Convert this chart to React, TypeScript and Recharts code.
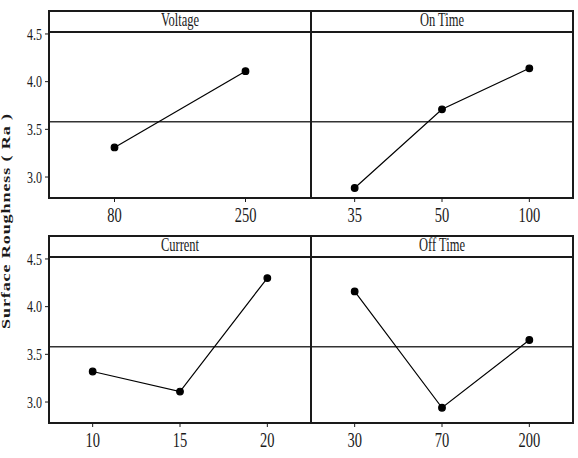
import { LineChart, Line, XAxis, YAxis, ReferenceLine } from "recharts";

// main effects for surface roughness (Ra)
const voltageLevels = ["80", "250"];
const voltageRa = [3.31, 4.11];
const onTimeLevels = ["35", "50", "100"];
const onTimeRa = [2.885, 3.71, 4.14];
const currentLevels = ["10", "15", "20"];
const currentRa = [3.32, 3.11, 4.3];
const offTimeLevels = ["30", "70", "200"];
const offTimeRa = [4.16, 2.94, 3.65];
const yTicks = [3.0, 3.5, 4.0, 4.5];
const grandMean = 3.58;

const FONT = "'Liberation Serif', 'Times New Roman', serif";
const INK = "#1a1a1a";
const HEADER = 23;
const PLOT_H = 165;
const AXIS_H = 30;
const Y_W = 49;

function XTick(props: any) {
  const { x, y, payload } = props;
  return (
    <g transform={`translate(${x},${y + 2}) scale(1,1.45)`}>
      <text x={0} y={0} dy="0.75em" textAnchor="middle" fontSize={14.5} fontFamily={FONT} fill={INK}>
        {payload.value}
      </text>
    </g>
  );
}

function YTick(props: any) {
  const { x, y, payload } = props;
  return (
    <g transform={`translate(${x - 1},${y}) scale(1,1.35)`}>
      <text x={0} y={0} dy="0.35em" textAnchor="end" fontSize={12} fontFamily={FONT} fill={INK}>
        {Number(payload.value).toFixed(1)}
      </text>
    </g>
  );
}

interface PanelProps {
  title: string;
  levels: string[];
  values: number[];
  left: number;
  top: number;
  width: number;
  showY: boolean;
}

function Panel({ title, levels, values, left, top, width, showY }: PanelProps) {
  const data = levels.map((level, i) => ({ level, ra: values[i] }));
  const plotLeft = showY ? left + Y_W : left;
  const plotW = showY ? width - Y_W : width;
  return (
    <>
      <div style={{ position: "absolute", left, top, width, height: HEADER + PLOT_H + AXIS_H }}>
        <LineChart width={width} height={HEADER + PLOT_H + AXIS_H} data={data}
          margin={{ top: HEADER, right: 0, bottom: 0, left: 0 }}>
          <XAxis dataKey="level" scale="band" axisLine={false} tickSize={4}
            tickLine={{ stroke: INK }} height={AXIS_H} tick={<XTick />} interval={0} />
          <YAxis domain={[2.78, 4.51]} ticks={yTicks} allowDataOverflow hide={!showY}
            width={showY ? Y_W : 0} axisLine={false} tickSize={4} tickLine={{ stroke: INK }}
            tick={<YTick />} />
          <ReferenceLine y={grandMean} stroke="#333" strokeWidth={1.5} />
          <Line dataKey="ra" stroke="#000" strokeWidth={1.2} isAnimationActive={false}
            dot={{ r: 3.3, fill: "#000", stroke: "#000" }} />
        </LineChart>
      </div>
      {/* header strip */}
      <div style={{
        position: "absolute", left: plotLeft, top, width: plotW, height: HEADER,
        borderBottom: `2px solid ${INK}`, boxSizing: "border-box",
        display: "flex", alignItems: "center", justifyContent: "center",
      }}>
        <span style={{ fontFamily: FONT, fontSize: 12.5, color: INK, transform: "scaleY(1.5)", display: "inline-block" }}>
          {title}
        </span>
      </div>
    </>
  );
}

function Frame({ top }: { top: number }) {
  return (
    <>
      <div style={{
        position: "absolute", left: 48, top, width: 526, height: HEADER + PLOT_H + 1,
        border: `2px solid ${INK}`, boxSizing: "border-box", pointerEvents: "none",
      }} />
      <div style={{
        position: "absolute", left: 310, top, width: 2, height: HEADER + PLOT_H + 1,
        background: INK, pointerEvents: "none",
      }} />
    </>
  );
}

export default function App() {
  return (
    <div style={{ position: "absolute", left: 0, top: 0, width: 578, height: 458, background: "#fff", overflow: "hidden" }}>
      <Panel title="Voltage" levels={voltageLevels} values={voltageRa} left={0} top={10} width={311} showY />
      <Panel title="On Time" levels={onTimeLevels} values={onTimeRa} left={311} top={10} width={262} showY={false} />
      <Panel title="Current" levels={currentLevels} values={currentRa} left={0} top={235} width={311} showY />
      <Panel title="Off Time" levels={offTimeLevels} values={offTimeRa} left={311} top={235} width={262} showY={false} />
      <Frame top={10} />
      <Frame top={235} />
      <svg width={20} height={458} style={{ position: "absolute", left: 0, top: 0 }}>
        <text transform="translate(10,221) rotate(-90) scale(1.45,1)" textAnchor="middle"
          fontFamily={FONT} fontSize={12.5} fontWeight="bold" letterSpacing={0.6} fill={INK}>
          Surface Roughness ( Ra )
        </text>
      </svg>
    </div>
  );
}
